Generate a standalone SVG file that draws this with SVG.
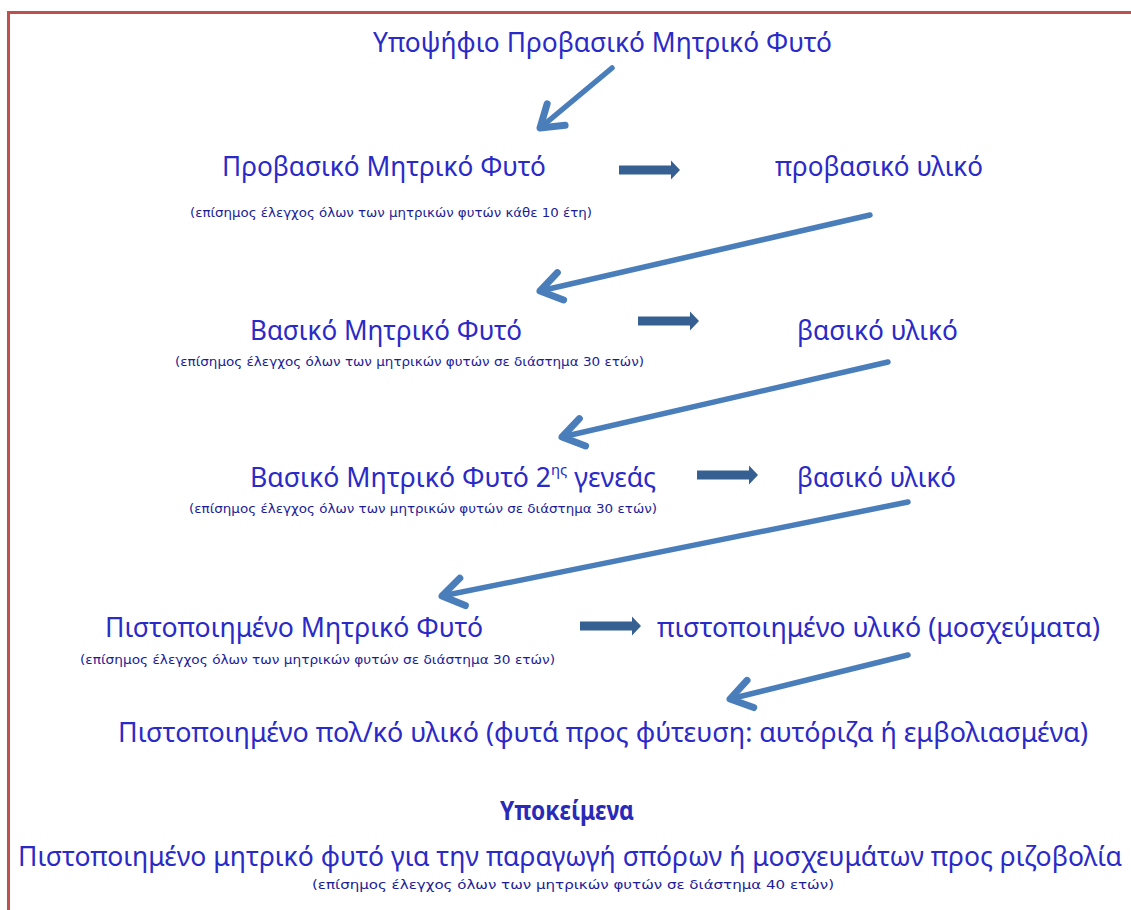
<svg xmlns="http://www.w3.org/2000/svg" width="1131" height="910" viewBox="0 0 1131 910">
<defs>
<style>
.t{font-family:"Noto Sans","Open Sans","DejaVu Sans",sans-serif;font-size:27px;fill:#2a2ac8}
.s{font-family:"DejaVu Sans","Liberation Sans",sans-serif;font-size:12px;fill:#1c1c96}
.b{font-family:"Noto Sans","Open Sans",sans-serif;font-size:26px;font-weight:bold;fill:#2a2ab8}
.ln{fill:none;stroke:#4a7ebb;stroke-width:5.5;stroke-linecap:round;marker-end:url(#ah)}
.blk{fill:#376092}
</style>
<marker id="ah" markerUnits="userSpaceOnUse" viewBox="-30 -20 40 40" markerWidth="40" markerHeight="40" refX="0" refY="0" orient="auto">
<path d="M-21,-14 L0,0 L-21,14" fill="none" stroke="#4a7ebb" stroke-width="7" stroke-linecap="round" stroke-linejoin="round"/>
</marker>
<path id="blk" d="M0,-4.5 L52,-4.5 L52,-9.5 L61,0 L52,9.5 L52,4.5 L0,4.5 Z"/>
</defs>
<rect width="1131" height="910" fill="#ffffff"/>
<path d="M8.5,910 L8.5,12.5 L1131,12.5" fill="none" stroke="#c0504d" stroke-width="3"/>

<g id="connectors">
<line class="ln" x1="612" y1="68" x2="540" y2="128"/>
<line class="ln" x1="870" y1="215" x2="540" y2="291"/>
<line class="ln" x1="888" y1="362" x2="562" y2="437"/>
<line class="ln" x1="908" y1="502" x2="442" y2="596"/>
<line class="ln" x1="908" y1="655" x2="730" y2="699"/>
<use href="#blk" class="blk" x="619" y="170"/>
<use href="#blk" class="blk" x="638" y="321"/>
<use href="#blk" class="blk" x="697" y="475"/>
<use href="#blk" class="blk" x="580" y="626"/>
</g>

<g id="n0"><text class="t" x="373" y="52" textLength="459" lengthAdjust="spacingAndGlyphs">Υποψήφιο Προβασικό Μητρικό Φυτό</text></g>

<g id="n1">
<text class="t" x="222" y="176" textLength="324" lengthAdjust="spacingAndGlyphs">Προβασικό Μητρικό Φυτό</text>
<text class="s" x="190" y="217" textLength="402" lengthAdjust="spacingAndGlyphs">(επίσημος έλεγχος όλων των μητρικών φυτών κάθε 10 έτη)</text>
</g>
<g id="n1m"><text class="t" x="775" y="176" textLength="208" lengthAdjust="spacingAndGlyphs">προβασικό υλικό</text></g>

<g id="n2">
<text class="t" x="250" y="340" textLength="272" lengthAdjust="spacingAndGlyphs">Βασικό Μητρικό Φυτό</text>
<text class="s" x="175" y="366" textLength="469" lengthAdjust="spacingAndGlyphs">(επίσημος έλεγχος όλων των μητρικών φυτών σε διάστημα 30 ετών)</text>
</g>
<g id="n2m"><text class="t" x="797" y="340" textLength="161" lengthAdjust="spacingAndGlyphs">βασικό υλικό</text></g>

<g id="n3">
<text class="t" x="250" y="487" textLength="406" lengthAdjust="spacingAndGlyphs">Βασικό Μητρικό Φυτό 2<tspan font-size="15" dy="-12">ης</tspan><tspan dy="12"> γενεάς</tspan></text>
<text class="s" x="189" y="513" textLength="468" lengthAdjust="spacingAndGlyphs">(επίσημος έλεγχος όλων των μητρικών φυτών σε διάστημα 30 ετών)</text>
</g>
<g id="n3m"><text class="t" x="797" y="487" textLength="159" lengthAdjust="spacingAndGlyphs">βασικό υλικό</text></g>

<g id="n4">
<text class="t" x="105" y="637" textLength="378" lengthAdjust="spacingAndGlyphs">Πιστοποιημένο Μητρικό Φυτό</text>
<text class="s" x="80" y="664" textLength="475" lengthAdjust="spacingAndGlyphs">(επίσημος έλεγχος όλων των μητρικών φυτών σε διάστημα 30 ετών)</text>
</g>
<g id="n4m"><text class="t" x="657" y="637" textLength="443" lengthAdjust="spacingAndGlyphs">πιστοποιημένο υλικό (μοσχεύματα)</text></g>

<g id="n5"><text class="t" x="118" y="742" textLength="970" lengthAdjust="spacingAndGlyphs">Πιστοποιημένο πολ/κό υλικό (φυτά προς φύτευση: αυτόριζα ή εμβολιασμένα)</text></g>

<g id="n6">
<text class="b" x="500" y="820" textLength="134" lengthAdjust="spacingAndGlyphs">Υποκείμενα</text>
<text class="t" x="18" y="866" font-size="25" textLength="1104" lengthAdjust="spacingAndGlyphs">Πιστοποιημένο μητρικό φυτό για την παραγωγή σπόρων ή μοσχευμάτων προς ριζοβολία</text>
<text class="s" x="312" y="889" textLength="522" lengthAdjust="spacingAndGlyphs">(επίσημος έλεγχος όλων των μητρικών φυτών σε διάστημα 40 ετών)</text>
</g>
</svg>
